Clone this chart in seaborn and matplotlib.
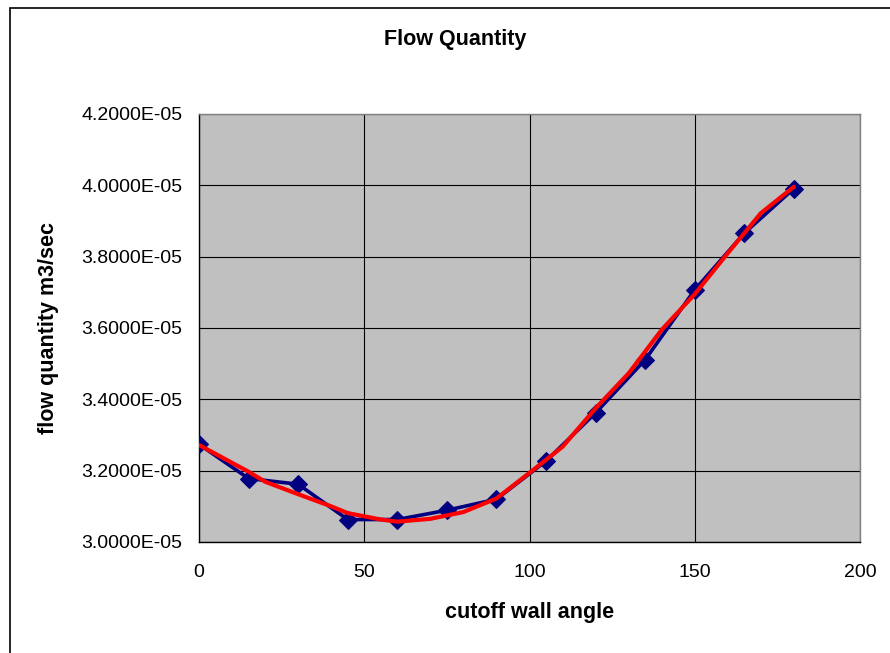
import matplotlib
matplotlib.use("Agg")
import matplotlib.pyplot as plt
import matplotlib.patches as mpatches
from matplotlib.ticker import FuncFormatter
import seaborn as sns
import pandas as pd

# data (flow quantity in 1e-5 m3/sec)
angles = [0, 15, 30, 45, 60, 75, 90, 105, 120, 135, 150, 165, 180]
flow = [3.274, 3.178, 3.162, 3.063, 3.063, 3.089, 3.120, 3.227, 3.362, 3.511, 3.707, 3.866, 3.991]

fit_angles = [0, 10, 15, 20, 30, 40, 45, 50, 55, 60, 70, 80, 85, 90, 100, 110, 120, 130, 140, 150, 160, 170, 180]
fit_flow = [3.272, 3.222, 3.197, 3.169, 3.134, 3.100, 3.081, 3.072, 3.063, 3.057, 3.065, 3.084, 3.103, 3.122,
            3.194, 3.267, 3.375, 3.473, 3.595, 3.695, 3.810, 3.922, 3.996]

x_ticks = [0, 50, 100, 150, 200]
y_ticks = [3.0, 3.2, 3.4, 3.6, 3.8, 4.0, 4.2]

df = pd.DataFrame({"angle": angles, "flow": [v * 1e-5 for v in flow]})
df_fit = pd.DataFrame({"angle": fit_angles, "flow": [v * 1e-5 for v in fit_flow]})

sns.set_style("white")
plt.rcParams['font.family'] = ['Liberation Sans', 'DejaVu Sans']
plt.rcParams['text.color'] = 'black'
plt.rcParams['axes.labelcolor'] = 'black'
plt.rcParams['xtick.color'] = 'black'
plt.rcParams['ytick.color'] = 'black'

fig = plt.figure(figsize=(8.9, 6.53), dpi=100)
ax = fig.add_axes([199/890, 1 - 542/653, (860-199)/890, (542-114)/653])
ax.set_facecolor("#C0C0C0")

sns.lineplot(data=df, x="angle", y="flow", ax=ax, color="#000080", linewidth=2.6,
             marker="D", markersize=9, markeredgecolor="#000080", markerfacecolor="#000080",
             zorder=3)
sns.lineplot(data=df_fit, x="angle", y="flow", ax=ax, color="#FF0000", linewidth=3.0, zorder=4)

ax.set_xlim(0, 200)
ax.set_ylim(3.0e-5, 4.2e-5)
ax.set_xticks(x_ticks)
ax.set_yticks([v * 1e-5 for v in y_ticks])
ax.yaxis.set_major_formatter(FuncFormatter(lambda v, p: "%.4E" % v))
ax.grid(True, color="black", linewidth=0.8)
ax.set_axisbelow(True)
ax.tick_params(axis="both", direction="out", length=4, width=0.8, color="black",
               labelsize=14, labelcolor="black")
ax.tick_params(axis="x", pad=12)
ax.tick_params(axis="y", pad=8)

for side in ["left", "bottom"]:
    ax.spines[side].set_color("black")
    ax.spines[side].set_linewidth(1.0)
for side in ["top", "right"]:
    ax.spines[side].set_color("#808080")
    ax.spines[side].set_linewidth(1.0)

ax.set_xlabel("cutoff wall angle", fontsize=15.5, fontweight="bold", color="black")
ax.set_ylabel("flow quantity m3/sec", fontsize=15.5, fontweight="bold", color="black")
ax.xaxis.set_label_coords(0.5, (542 - 602) / 428, transform=ax.transAxes)
ax.yaxis.set_label_coords((59 - 199) / 661, 0.5, transform=ax.transAxes)

fig.text(455/890, 1 - 40/653, "Flow Quantity", fontsize=15.5, fontweight="bold",
         ha="center", va="center", color="black")

# chart area border
fig.patches.append(mpatches.Rectangle((10/890, -0.01), 1.0, 1 - 8/653 + 0.01,
                                      transform=fig.transFigure, fill=False,
                                      edgecolor="black", linewidth=1.2, zorder=0))

fig.savefig("out.png", dpi=100, facecolor="white")
